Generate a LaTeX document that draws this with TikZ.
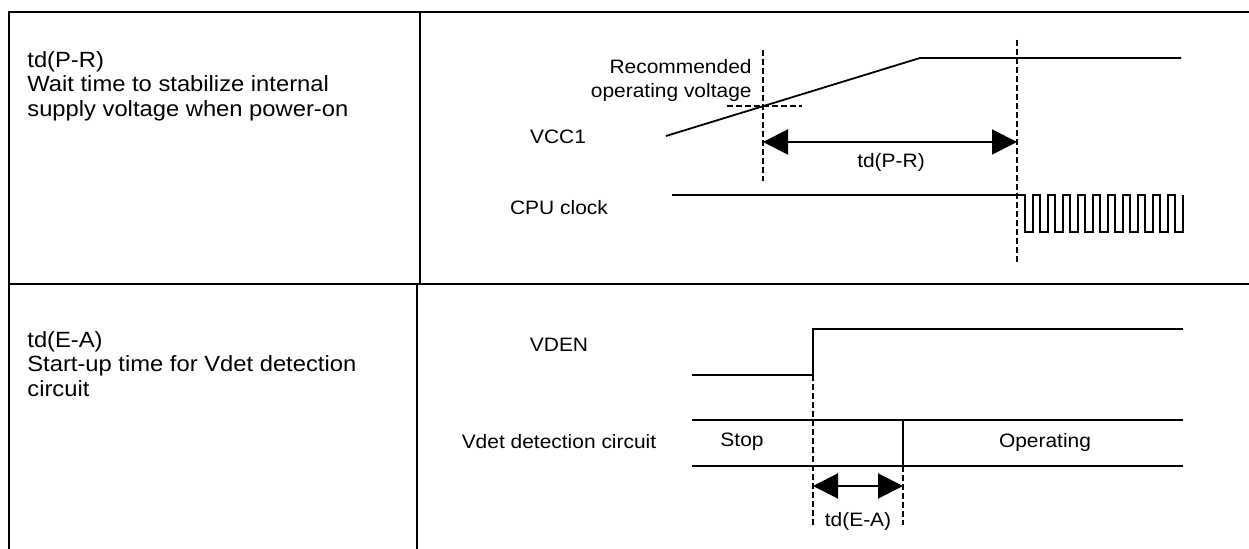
\documentclass[tikz,border=0pt]{standalone}
\usepackage{fontspec}
\setmainfont[FakeStretch=1.08]{Liberation Sans}
\usepackage{tikz}
\usetikzlibrary{calc}
\usetikzlibrary{arrows.meta}
\usetikzlibrary{positioning}
\tikzset{frame/.style={line width=1.2pt,line cap=rect}}

\begin{document}
\begin{tikzpicture}[x=0.5pt,y=-0.5pt]
  % some styles
  \tikzset{
    sig/.style={line width=0.9pt},
    guide/.style={line width=1.1pt,dash pattern=on 3pt off 1.5pt},
    span/.style={
      line width=1pt,
      {Triangle[length=12.5pt,width=12.5pt]}-{Triangle[length=12.5pt,width=12.5pt]}
    },
    lbl/.style={font=\fontsize{9.7}{12}\selectfont,inner sep=0pt},
    desc/.style={font=\fontsize{11}{12.3}\selectfont,inner sep=0pt,align=left,anchor=north west}
  }
 \useasboundingbox (0,0) rectangle (1249,549);

% table
\draw[frame] (1249,12) -- (9,12) -- (9,549);
\draw[frame] (9,284) -- (1249,284);
\draw[frame] (420,12) -- (420,284);
\draw[frame] (417,284) -- (417,549);

\node[desc] (pr-text) at (27,51) {td(P-R)\\Wait time to stabilize internal\\supply voltage when power-on};
\node[desc] (ea-text) at (27,331) {td(E-A)\\Start-up time for Vdet detection\\circuit};

% td(P-R)
\node[lbl] (vcc) at (558,137) {VCC1};
\node[lbl] (cpu) at (559,208) {CPU clock};
\node[lbl,align=right,anchor=east] (rec) at (752,80) {Recommended\\operating voltage};
\coordinate (pr-a) at (763,142);
\coordinate (pr-b) at (1017,142);
\draw[sig] (666,136) -- (920,58) -- (1181,58);
\draw[guide] (727,106) -- (802,106);
\draw[guide] (763,50) -- (763,181);
\draw[guide] (1017,40) -- (1017,264);
\draw[span] (pr-a) -- (pr-b);
\node[lbl] (pr-lbl) at (891,162) {td(P-R)};
\draw[line width=1.4pt] (672,195) -- (1017,195);
\draw[sig] (1017,195) -- (1025,195)
  \foreach \k in {0,...,9} { -- ++(0,37) -- ++(8,0) -- ++(0,-37) -- ++(7,0) }
  -- ++(0,37) -- ++(8,0) -- ++(0,-37);

% td(E-A)
\node[lbl] (vden) at (559,345) {VDEN};
\node[lbl] (vdet) at (559,442) {Vdet detection circuit};
\node[lbl] (stop) at (742,442) {Stop};
\node[lbl] (oper) at (1045,442) {Operating};
\coordinate (ea-a) at (813,486);
\coordinate (ea-b) at (903,486);
\draw[sig] (692,375) -- (813,375) -- (813,329) -- (1183,329);
\draw[sig] (692,420) -- (1183,420);
\draw[sig] (692,466) -- (1183,466);
\draw[sig] (903,420) -- (903,466);
\draw[guide] (813,375) -- (813,525);
\draw[guide] (903,466) -- (903,525);
\draw[span] (ea-a) -- (ea-b);
\node[lbl] (ea-lbl) at (858,521) {td(E-A)};

\end{tikzpicture}
\end{document}
